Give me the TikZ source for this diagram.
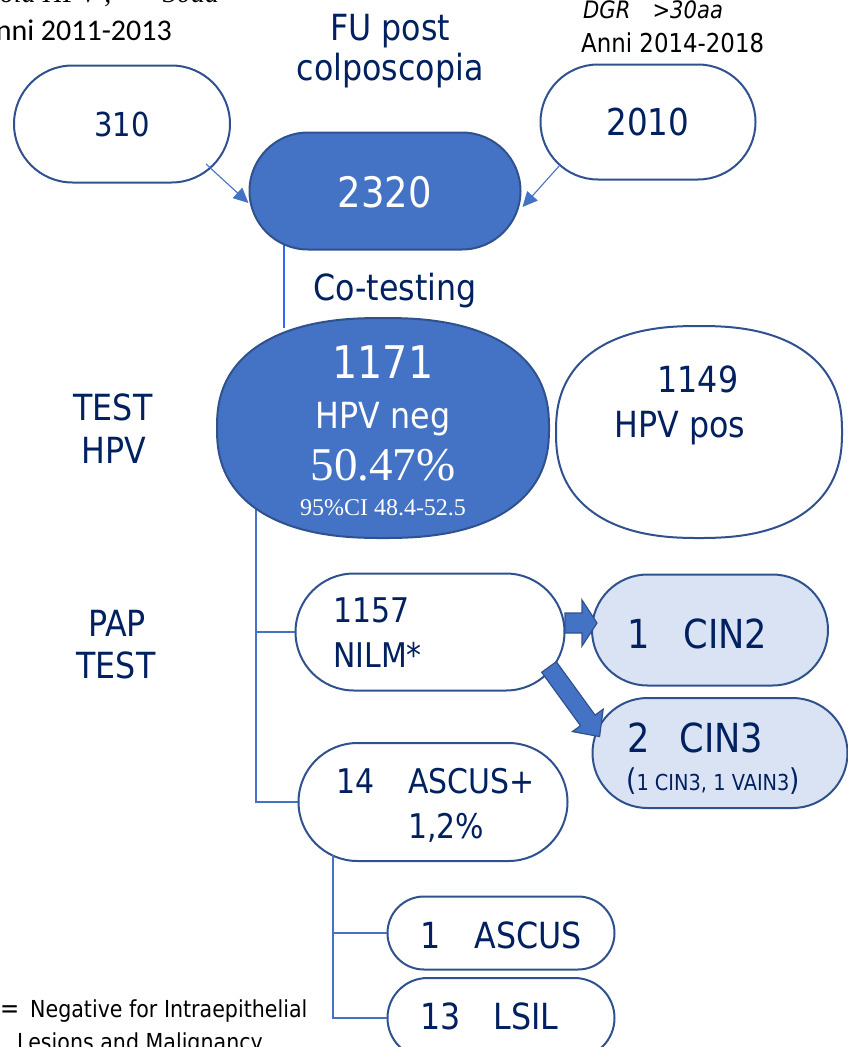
\documentclass[tikz,border=0pt]{standalone}
\usepackage{fontspec}
\usetikzlibrary{shapes.misc,shapes.geometric,arrows.meta,calc}
\newfontfamily\tah[FakeStretch=0.88]{DejaVu Sans}
\newfontfamily\calf{Carlito}
\newfontfamily\tnr{Liberation Serif}
\newcommand\fsz[1]{\fontsize{#1}{#1}\selectfont}
\definecolor{navy}{HTML}{002060}
\definecolor{blu}{HTML}{4472C4}
\definecolor{edgeb}{HTML}{2F528F}
\definecolor{pale}{HTML}{DAE3F3}
\definecolor{brite}{HTML}{3366FF}
\tikzset{
  pill/.style={rounded rectangle, draw=edgeb, line width=2pt, fill=white, inner sep=0pt},
  bluepill/.style={pill, fill=blu},
  palepill/.style={pill, fill=pale},
  oval/.style={draw=edgeb, line width=2pt},
  txt/.style={inner sep=0pt, text=navy, font=\tah},
  blk/.style={inner sep=0pt, text=black},
  conn/.style={draw=blu, line width=1.1pt, -{Triangle[length=15pt,width=14pt]}},
  tree/.style={draw=blu, line width=1.2pt},
  blockarrow/.style={fill=blu, draw=edgeb, line width=1.2pt, line join=miter},
}
% superellipse: centre x, centre y, half width, half height
\newcommand\superov[5][]{%
  \filldraw[oval,#1] plot[domain=1:361, samples=181, variable=\t]
   ({#2+#4*cos(\t)/abs(cos(\t))*pow(abs(cos(\t)),0.833)},
    {#3+#5*sin(\t)/abs(sin(\t))*pow(abs(sin(\t)),0.833)}) -- cycle;}
\begin{document}
\begin{tikzpicture}[x=1pt,y=-1pt]
\useasboundingbox (0,0) rectangle (848,1047);

% named centres
\coordinate (n1171) at (383,428);
\coordinate (n1149) at (699,432);
\node[pill, minimum width=271pt, minimum height=117pt, draw=none, fill=none] (n2320) at (385,191) {};

% lines under the shapes
\draw[draw=brite, line width=1.4pt] ($(n2320.center)+(-101,50)$) -- ($(n1171)+(-99,-100)$);
\coordinate (t1) at (256,505);

% top clipped texts
\node[blk, anchor=base west] (tl0) at (-14,2) {\tnr\fsz{28}\itshape Sola HPV ,};
\node[blk, anchor=base west] (tl1) at (163,2) {\tnr\fsz{28}\itshape 30aa};
\node[blk, anchor=base east] (tl2) at (172,40) {\calf\fsz{30}Anni 2011-2013};
\node[blk, anchor=base west] (tr1) at (583,18) {\tah\fsz{24}\itshape DGR\hspace{22pt}>30aa};
\node[blk, anchor=base west] (tr2) at (581,52) {\tah\fsz{26}Anni 2014-2018};

% title
\node[txt, anchor=base] (ti1) at (390,40) {\fsz{36}FU post};
\node[txt, anchor=base] (ti2) at (390,80) {\fsz{36}colposcopia};

% top nodes
\node[pill, minimum width=216pt, minimum height=117pt] (n310) at (122,124) {};
\node[txt] at (n310) {\fsz{33}310};
\node[pill, minimum width=215pt, minimum height=115pt] (n2010) at (648,122) {};
\node[txt] at (n2010) {\fsz{37}2010};
\node[bluepill, minimum width=271pt, minimum height=117pt] (n2320b) at (n2320) {};
\node[txt, text=white, anchor=base] (t2320) at (385,207) {\fsz{42}2320};

\draw[conn] ($(n310.center)+(84,40)$) -- ($(n2320.west)+(0,12)$);
\draw[conn] ($(n2010.center)+(-88,43)$) -- ($(n2320.east)+(1,16)$);

\node[txt, anchor=base] (tco) at (395,300) {\fsz{36}Co-testing};

% tree line 1 (under the oval)
\draw[tree] (t1) |- (430,632);
\draw[tree] (t1) |- (433,802);

% HPV test
\superov[fill=blu]{383}{428}{166}{110}
\superov[fill=white]{699}{432}{143}{106}

\node[txt, text=white, anchor=base] (a1) at (383,378) {\fsz{45}1171};
\node[txt, text=white, anchor=base] (a2) at (383,428) {\fsz{36}HPV neg};
\node[inner sep=0pt, text=white, anchor=base] (a3) at (383,480) {\tnr\fsz{47}50.47\%};
\node[inner sep=0pt, text=white, anchor=base] (a4) at (383,515) {\tnr\fsz{24}95\%CI 48.4-52.5};

\node[txt, anchor=base] (b1) at (698,392) {\fsz{36}1149};
\node[txt, anchor=base] (b2) at (680,437) {\fsz{36}HPV pos};

\node[txt, anchor=base] (l1) at (113,420) {\fsz{36}TEST};
\node[txt, anchor=base] (l2) at (114,463) {\fsz{36}HPV};
\node[txt, anchor=base] (l3) at (117,636) {\fsz{36}PAP};
\node[txt, anchor=base] (l4) at (116,678) {\fsz{36}TEST};

% PAP
\node[pill, minimum width=269pt, minimum height=117pt] (n1157) at (430,632) {};
\node[txt, anchor=base west] (c1) at (333,622) {\fsz{34}1157};
\node[txt, anchor=base west] (c2) at (333,667) {\fsz{34}NILM*};

\node[palepill, minimum width=236pt, minimum height=111pt] (ncin2) at (710,630) {};
\node[txt, anchor=base west] (d1) at (627,648) {\fsz{40}1\hspace{34pt}CIN2};

\node[palepill, minimum width=255pt, minimum height=110pt] (ncin3) at (720,753) {};
\node[txt, anchor=base west] (e1) at (627,752) {\fsz{40}2\hspace{30pt}CIN3};
\node[txt, anchor=base west] (e2) at (626,790) {\fsz{30}(\fsz{22}1 CIN3, 1 VAIN3\fsz{30})};

\node[pill, minimum width=269pt, minimum height=118pt] (nascp) at (433,802) {};
\node[txt, anchor=base west] (f1) at (336,793) {\fsz{34}14\hspace{34pt}ASCUS+};
\node[txt, anchor=base west] (f2) at (408,838) {\fsz{34}1,2\%};

\node[pill, minimum width=227pt, minimum height=73pt] (nasc) at (501,933) {};
\node[txt, anchor=base west] (g1) at (420,948) {\fsz{36}1\hspace{34pt}ASCUS};
\node[pill, minimum width=227pt, minimum height=80pt] (nlsil) at (501,1018) {};
\node[txt, anchor=base west] (h1) at (420,1029) {\fsz{36}13\hspace{33pt}LSIL};

% block arrows
\begin{scope}[shift={(565,623)}]
  \filldraw[blockarrow] (0,-10) -- (17,-10) -- (17,-23) -- (32,0) -- (17,23) -- (17,10) -- (0,10) -- cycle;
\end{scope}
\begin{scope}[shift={(549,667)}, rotate=-54]
  \filldraw[blockarrow] (0,-9) -- (66,-9) -- (66,-19) -- (86,0) -- (66,19) -- (66,9) -- (0,9) -- cycle;
\end{scope}

% tree lines 2
\coordinate (t2) at (333,855);
\draw[tree] (t2) |- (nasc.west);
\draw[tree] (t2) |- (nlsil.west);

% footnote
\node[blk, anchor=base west] (fn0) at (0,1017) {\tah\fsz{26}=};
\node[blk, anchor=base west] (fn1) at (30,1017) {\tah\fsz{23.4}Negative for Intraepithelial};
\node[blk, anchor=base west] (fn2) at (17,1050) {\tah\fsz{23.4}Lesions and Malignancy};
\end{tikzpicture}
\end{document}
